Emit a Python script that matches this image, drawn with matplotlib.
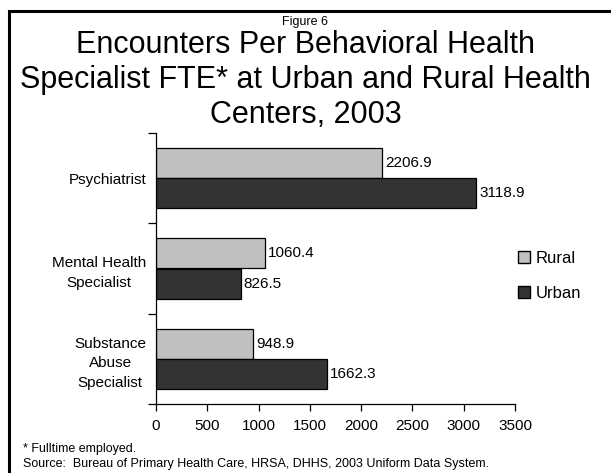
import numpy as np
import matplotlib.pyplot as plt
from matplotlib.patches import Rectangle, Patch

plt.rcParams['font.family'] = ['Liberation Sans', 'DejaVu Sans']

# --- data ---
categories = ['Psychiatrist', 'Mental Health\nSpecialist', 'Substance\nAbuse\nSpecialist']
rural = [2206.9, 1060.4, 948.9]
urban = [3118.9, 826.5, 1662.3]
x_ticks = [0, 500, 1000, 1500, 2000, 2500, 3000, 3500]

RURAL_COLOR = '#c0c0c0'
URBAN_COLOR = '#333333'

fig = plt.figure(figsize=(6.11, 4.73), dpi=100)
ax = fig.add_axes([156 / 611, 1 - 404 / 473, (515 - 156) / 611, (404 - 133) / 473])

# frame around the whole slide
fig.patches.append(Rectangle((9 / 611, -0.1), 1.2, 1 - 11 / 473 + 0.1,
                             transform=fig.transFigure, fill=False,
                             edgecolor='black', linewidth=2.2))

y = np.arange(len(categories))
h = 1 / 3
ax.barh(y - h / 2, rural, height=h, color=RURAL_COLOR, edgecolor='black', linewidth=0.9, label='Rural')
ax.barh(y + h / 2, urban, height=h, color=URBAN_COLOR, edgecolor='black', linewidth=0.9, label='Urban')

# value labels
for yi, v in zip(y - h / 2, rural):
    ax.text(v + 30, yi, f'{v:.1f}', va='center', ha='left', fontsize=11)
for yi, v in zip(y + h / 2, urban):
    ax.text(v + 30, yi, f'{v:.1f}', va='center', ha='left', fontsize=11)

ax.set_xlim(0, 3500)
ax.set_ylim(2.5, -0.5)
ax.set_xticks(x_ticks)
ax.set_xticklabels([str(t) for t in x_ticks], fontsize=11)

# separators as major ticks, category names on minor ticks
ax.set_yticks([-0.5, 0.5, 1.5, 2.5])
ax.set_yticklabels([])
ax.set_yticks(y, minor=True)
ax.set_yticklabels(categories, minor=True, fontsize=11)
for lbl in ax.get_yticklabels(minor=True):
    lbl.set_multialignment('center')
    lbl.set_linespacing(1.5)
ax.tick_params(axis='y', which='major', direction='out', length=6, width=0.9)
ax.tick_params(axis='y', which='minor', length=0, pad=7)
ax.tick_params(axis='x', direction='out', length=5, width=0.9, pad=6)

for s in ['top', 'right']:
    ax.spines[s].set_visible(False)
for s in ['left', 'bottom']:
    ax.spines[s].set_linewidth(0.9)

fig.legend(handles=[Patch(facecolor=RURAL_COLOR, edgecolor='black', label='Rural'),
                    Patch(facecolor=URBAN_COLOR, edgecolor='black', label='Urban')],
           loc='center left', bbox_to_anchor=(503 / 611, 1 - 276 / 473), frameon=False,
           fontsize=12, handlelength=0.7, handleheight=0.7, handletextpad=0.35,
           labelspacing=1.2)

# titles
fig.text(0.5, 1 - 22 / 473, 'Figure 6', ha='center', va='center', fontsize=9)
fig.text(0.5, 1 - 80 / 473,
         'Encounters Per Behavioral Health\nSpecialist FTE* at Urban and Rural Health\nCenters, 2003',
         ha='center', va='center', fontsize=22, linespacing=1.22)

# footnotes
fig.text(23 / 611, 1 - 449 / 473, '* Fulltime employed.', ha='left', va='center', fontsize=9)
fig.text(23 / 611, 1 - 464 / 473,
         'Source:  Bureau of Primary Health Care, HRSA, DHHS, 2003 Uniform Data System.',
         ha='left', va='center', fontsize=9)

fig.savefig('out.png', dpi=100)
